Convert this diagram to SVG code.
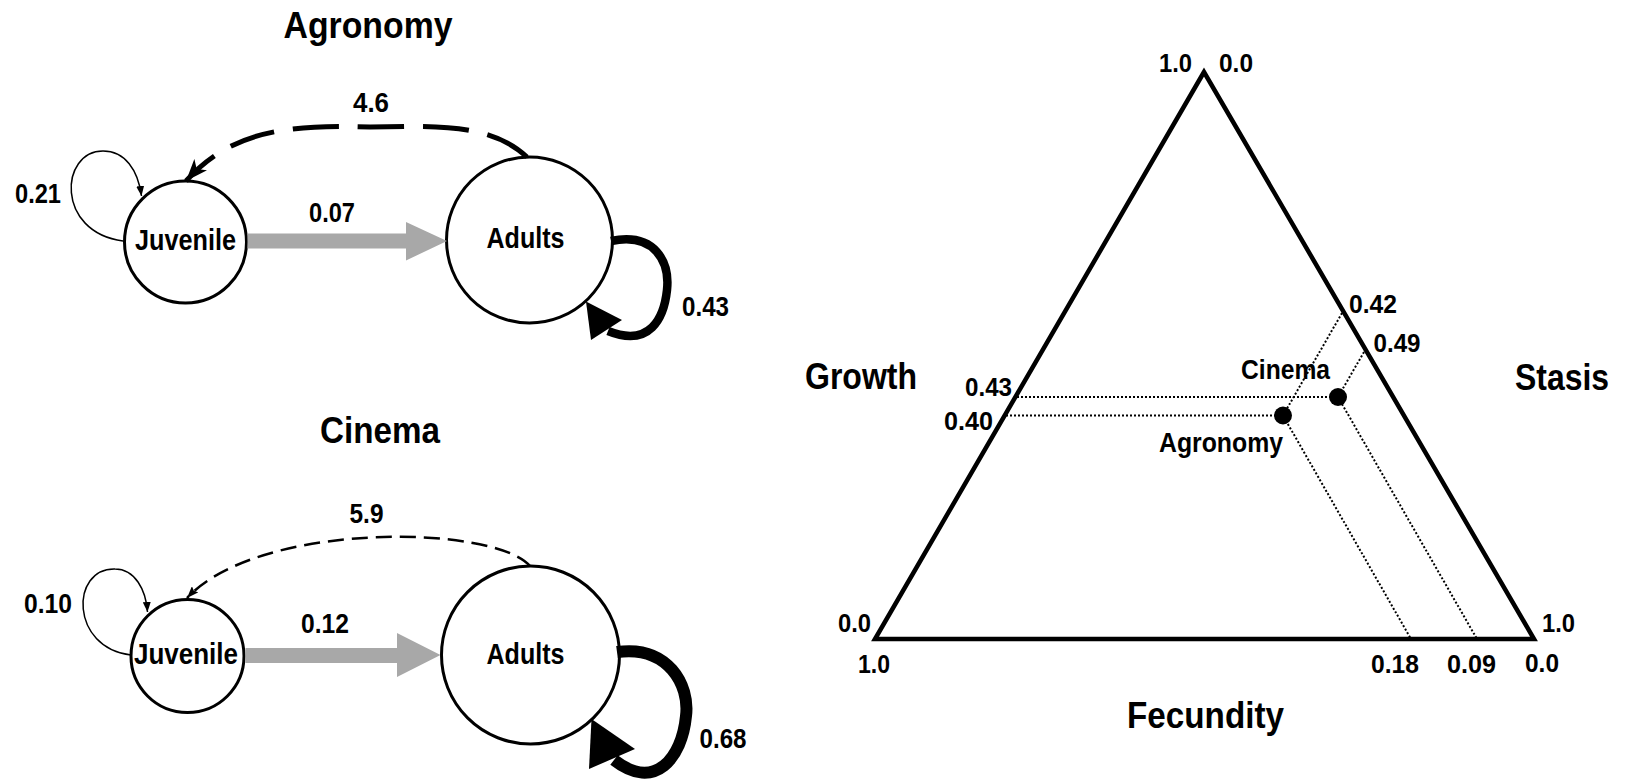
<svg xmlns="http://www.w3.org/2000/svg" width="1625" height="779" viewBox="0 0 1625 779">
<style>
  text { font-family: "Liberation Sans", Arial, sans-serif; font-weight: bold; fill: #000; text-anchor: middle; }
  .title { font-size: 37px; }
  .node-label { font-size: 29px; }
  .num { font-size: 27px; }
  .tnum { font-size: 26px; }
  .plabel { font-size: 28px; }
  .state { fill: #fff; stroke: #000; stroke-width: 3; }
  .loop-thin { fill: none; stroke: #000; stroke-width: 1.5; }
  .dash-thick { fill: none; stroke: #000; stroke-width: 5; stroke-dasharray: 46 19; }
  .dash-thin { fill: none; stroke: #000; stroke-width: 2.5; stroke-dasharray: 16 8; }
  .grow { fill: #a8a8a8; stroke: none; }
  .loop-heavy { fill: none; stroke: #000; }
  .head { fill: #000; stroke: none; }
  .tri { fill: none; stroke: #000; stroke-width: 4.5; stroke-linejoin: miter; }
  .dots { fill: none; stroke: #000; stroke-width: 2; stroke-dasharray: 2 2; }
  .pt { fill: #000; }
</style>
<defs>
  <marker id="headSmall" viewBox="0 0 10 8" refX="10" refY="4" markerWidth="10" markerHeight="8" markerUnits="userSpaceOnUse" orient="auto">
    <path d="M0,0 L10,4 L0,8 z" fill="#000"/>
  </marker>
  <marker id="headThin" viewBox="0 0 12 9" refX="12" refY="4.5" markerWidth="12" markerHeight="9" markerUnits="userSpaceOnUse" orient="auto">
    <path d="M0,0 L12,4.5 L0,9 L2,4.5 z" fill="#000"/>
  </marker>
  <marker id="headBarb" viewBox="0 0 22 17" refX="22" refY="8.5" markerWidth="22" markerHeight="17" markerUnits="userSpaceOnUse" orient="auto">
    <path d="M0,0 L22,8.5 L0,17 L6,8.5 z" fill="#000"/>
  </marker>
</defs>
<rect width="1625" height="779" fill="#fff"/>

<!-- Agronomy life cycle -->
<g id="agronomy-title"><text class="title" x="368" y="38" textLength="169" lengthAdjust="spacingAndGlyphs">Agronomy</text></g>
<g id="agronomy-juvenile">
  <circle class="state" cx="185.5" cy="242" r="61"/>
  <text class="node-label" x="185.5" y="250" textLength="101" lengthAdjust="spacingAndGlyphs">Juvenile</text>
</g>
<g id="agronomy-adults">
  <circle class="state" cx="529.5" cy="240" r="83"/>
  <text class="node-label" x="525.5" y="248" textLength="78" lengthAdjust="spacingAndGlyphs">Adults</text>
</g>

<!-- Cinema life cycle -->
<g id="cinema-title"><text class="title" x="380" y="443" textLength="120" lengthAdjust="spacingAndGlyphs">Cinema</text></g>
<g id="cinema-juvenile">
  <circle class="state" cx="187.5" cy="656" r="56.5"/>
  <text class="node-label" x="186" y="664" textLength="104" lengthAdjust="spacingAndGlyphs">Juvenile</text>
</g>
<g id="cinema-adults">
  <circle class="state" cx="530.5" cy="655" r="89"/>
  <text class="node-label" x="525.5" y="664" textLength="78" lengthAdjust="spacingAndGlyphs">Adults</text>
</g>

<g id="connectors">
  <!-- Agronomy -->
  <path class="loop-thin" d="M123,241 C55,232 60,151 103,151 C125,151 138,170 141.5,196" marker-end="url(#headSmall)"/>
  <path class="dash-thick" d="M527,157 C490,122 430,126 370,127 C285,124 230,132 186,181" marker-end="url(#headBarb)"/>
  <polygon class="grow" points="247.5,233.5 406,233.5 406,222 447,241 406,260.5 406,248.5 247.5,248.5"/>
  <path class="loop-heavy" stroke-width="8.5" d="M611,241 C655,232 670,262 667,290 C664,318 650,348 608,331"/>
  <polygon class="head" points="586,301.5 591,340 622,320"/>
  <!-- Cinema -->
  <path class="loop-thin" d="M131,655 C70,648 70,568 115,569 C135,569 146,590 147.5,612" marker-end="url(#headSmall)"/>
  <path class="dash-thin" d="M530,566 C495,525 260,520 187,598" marker-end="url(#headThin)"/>
  <polygon class="grow" points="245.5,648 397,648 397,633 440.5,655 397,677 397,663 245.5,663"/>
  <path class="loop-heavy" stroke-width="12" d="M617,652 C668,645 690,685 686,716 C682,758 655,792 614,760"/>
  <polygon class="head" points="591.5,719 589,769 635,749"/>
</g>

<g id="edge-labels">
  <text class="num" x="371" y="112" textLength="36" lengthAdjust="spacingAndGlyphs">4.6</text>
  <text class="num" x="38" y="203" textLength="46" lengthAdjust="spacingAndGlyphs">0.21</text>
  <text class="num" x="332" y="222" textLength="46" lengthAdjust="spacingAndGlyphs">0.07</text>
  <text class="num" x="705.5" y="316" textLength="47" lengthAdjust="spacingAndGlyphs">0.43</text>
  <text class="num" x="366.5" y="523" textLength="34" lengthAdjust="spacingAndGlyphs">5.9</text>
  <text class="num" x="48" y="613" textLength="48" lengthAdjust="spacingAndGlyphs">0.10</text>
  <text class="num" x="325" y="633" textLength="48" lengthAdjust="spacingAndGlyphs">0.12</text>
  <text class="num" x="723" y="748" textLength="47" lengthAdjust="spacingAndGlyphs">0.68</text>
</g>

<!-- Ternary plot -->
<g id="ternary">
  <polygon class="tri" points="1204,72 875,639 1534,639"/>
  <path class="dots" d="M1017,397 L1337,397"/>
  <path class="dots" d="M1006,415.5 L1283,415.5"/>
  <path class="dots" d="M1342,313 L1283,415.5 L1411,639"/>
  <path class="dots" d="M1364,352 L1338,397 L1477,639"/>
  <circle class="pt" cx="1338" cy="397" r="9"/>
  <circle class="pt" cx="1283" cy="415.5" r="9"/>
</g>
<g id="ternary-labels">
  <text class="tnum" x="1175.5" y="72" textLength="33" lengthAdjust="spacingAndGlyphs">1.0</text>
  <text class="tnum" x="1236" y="72" textLength="34" lengthAdjust="spacingAndGlyphs">0.0</text>
  <text class="tnum" x="1373" y="313" textLength="48" lengthAdjust="spacingAndGlyphs">0.42</text>
  <text class="tnum" x="1397" y="352" textLength="47" lengthAdjust="spacingAndGlyphs">0.49</text>
  <text class="title" x="861" y="389" textLength="112" lengthAdjust="spacingAndGlyphs">Growth</text>
  <text class="title" x="1562" y="390" textLength="94" lengthAdjust="spacingAndGlyphs">Stasis</text>
  <text class="tnum" x="988.5" y="395.5" textLength="47" lengthAdjust="spacingAndGlyphs">0.43</text>
  <text class="tnum" x="968.5" y="430" textLength="49" lengthAdjust="spacingAndGlyphs">0.40</text>
  <text class="plabel" x="1285.5" y="379" textLength="89" lengthAdjust="spacingAndGlyphs">Cinema</text>
  <text class="plabel" x="1221" y="452" textLength="124" lengthAdjust="spacingAndGlyphs">Agronomy</text>
  <text class="tnum" x="854.5" y="632" textLength="33" lengthAdjust="spacingAndGlyphs">0.0</text>
  <text class="tnum" x="874" y="673" textLength="32" lengthAdjust="spacingAndGlyphs">1.0</text>
  <text class="tnum" x="1395" y="673" textLength="48" lengthAdjust="spacingAndGlyphs">0.18</text>
  <text class="tnum" x="1471.5" y="673" textLength="49" lengthAdjust="spacingAndGlyphs">0.09</text>
  <text class="tnum" x="1542" y="672" textLength="34" lengthAdjust="spacingAndGlyphs">0.0</text>
  <text class="tnum" x="1558.5" y="632" textLength="33" lengthAdjust="spacingAndGlyphs">1.0</text>
  <text class="title" x="1205.5" y="728" textLength="157" lengthAdjust="spacingAndGlyphs">Fecundity</text>
</g>
</svg>
